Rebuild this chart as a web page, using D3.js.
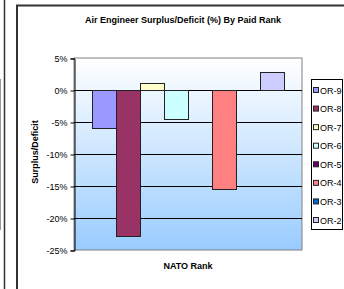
<!DOCTYPE html>
<html>
<head>
<meta charset="utf-8">
<script src="https://cdnjs.cloudflare.com/ajax/libs/d3/7.8.5/d3.min.js"></script>
<style>
  body { margin: 0; background: #fff; }
  svg { display: block; font-family: "Liberation Sans", Arial, sans-serif; }
</style>
</head>
<body>
<div id="chart"></div>
<script>
(function () {
    const width = 344, height = 289;

    const ranks = ["OR-9", "OR-8", "OR-7", "OR-6", "OR-5", "OR-4", "OR-3", "OR-2"];
    const values = [-6.0, -22.8, 1.1, -4.6, 0, -15.5, 0, 2.8];
    const colors = ["#9999FF", "#993366", "#FFFFCC", "#CCFFFF", "#660066", "#FF8080", "#0066CC", "#CCCCFF"];
    const yTicks = [5, 0, -5, -10, -15, -20, -25];

    const plot = { left: 74, right: 302, top: 58, bottom: 250 };

    const svg = d3.select("#chart").append("svg")
        .attr("width", width)
        .attr("height", height);

    // piece of the neighbouring chart on the left
    svg.append("line")
        .attr("x1", 4.5).attr("x2", 4.5)
        .attr("y1", 0).attr("y2", height)
        .style("stroke", "#333").style("stroke-width", 1.5);
    svg.append("line")
        .attr("x1", 0.5).attr("x2", 0.5)
        .attr("y1", 79).attr("y2", 230)
        .style("stroke", "#999");

    // chart frame
    svg.append("path")
        .attr("d", `M17,${height + 2} V5.5 H${width + 2}`)
        .style("fill", "none")
        .style("stroke", "#333")
        .style("stroke-width", 2);

    const y = d3.scaleLinear().domain([-25, 5]).range([plot.bottom, plot.top]);
    const x = d3.scaleBand().domain(ranks)
        .range([plot.left + 18, plot.right - 18])
        .paddingInner(0);

    const defs = svg.append("defs");
    const grad = defs.append("linearGradient")
        .attr("id", "bg")
        .attr("x1", 0).attr("y1", 0).attr("x2", 0).attr("y2", 1);
    grad.append("stop").attr("offset", "0%").attr("stop-color", "#ffffff");
    grad.append("stop").attr("offset", "100%").attr("stop-color", "#99CCFF");

    svg.append("rect")
        .attr("x", plot.left).attr("y", plot.top)
        .attr("width", plot.right - plot.left)
        .attr("height", plot.bottom - plot.top)
        .style("fill", "url(#bg)")
        .style("stroke", "#808080");

    // gridlines
    svg.append("g").selectAll("line")
        .data(yTicks.filter(d => d !== 5 && d !== -25))
        .enter().append("line")
        .attr("x1", plot.left).attr("x2", plot.right)
        .attr("y1", d => Math.round(y(d)) + 0.5)
        .attr("y2", d => Math.round(y(d)) + 0.5)
        .style("stroke", "#000");

    // bars
    svg.append("g").selectAll("rect")
        .data(ranks.map((r, i) => ({ r, v: values[i], c: colors[i] })).filter(d => d.v !== 0))
        .enter().append("rect")
        .attr("x", d => Math.round(x(d.r)) + 0.5)
        .attr("y", d => Math.round(y(Math.max(0, d.v))) + 0.5)
        .attr("width", x.bandwidth())
        .attr("height", d => Math.round(Math.abs(y(d.v) - y(0))))
        .style("fill", d => d.c)
        .style("stroke", "#222");

    // y axis
    const yAxis = d3.axisLeft(y)
        .tickValues(yTicks)
        .tickSize(4)
        .tickPadding(3)
        .tickFormat(d => d + "%");
    const ya = svg.append("g")
        .attr("transform", `translate(${plot.left + 0.5},0.5)`)
        .call(yAxis);
    ya.select(".domain").style("stroke", "#000");
    ya.selectAll(".tick line").style("stroke", "#000");
    ya.selectAll("text")
        .style("font-size", "9px")
        .style("fill", "#000")
        .style("font-family", "'Liberation Sans', Arial, sans-serif");

    // titles
    svg.append("text")
        .attr("x", 183).attr("y", 23)
        .attr("text-anchor", "middle")
        .style("font-size", "9px")
        .style("font-weight", "bold")
        .text("Air Engineer Surplus/Deficit (%) By Paid Rank");

    svg.append("text")
        .attr("transform", "translate(38,152) rotate(-90)")
        .attr("text-anchor", "middle")
        .style("font-size", "9px")
        .style("font-weight", "bold")
        .text("Surplus/Deficit");

    svg.append("text")
        .attr("x", 188).attr("y", 269)
        .attr("text-anchor", "middle")
        .style("font-size", "9px")
        .style("font-weight", "bold")
        .text("NATO Rank");

    // legend
    const legend = svg.append("g");
    legend.append("rect")
        .attr("x", 311.5).attr("y", 79.5)
        .attr("width", 31).attr("height", 150)
        .style("fill", "#fff")
        .style("stroke", "#000");

    const ly = d3.scalePoint().domain(ranks).range([90, 220]);
    const items = legend.selectAll("g.item")
        .data(ranks.map((r, i) => ({ r, c: colors[i] })))
        .enter().append("g")
        .attr("class", "item")
        .attr("transform", d => `translate(0,${ly(d.r)})`);
    items.append("rect")
        .attr("x", 313.5).attr("y", -2.5)
        .attr("width", 5).attr("height", 5)
        .style("fill", d => d.c)
        .style("stroke", "#222");
    items.append("text")
        .attr("x", 320).attr("y", 3.5)
        .style("font-size", "9px")
        .text(d => d.r);
})();
</script>
</body>
</html>
